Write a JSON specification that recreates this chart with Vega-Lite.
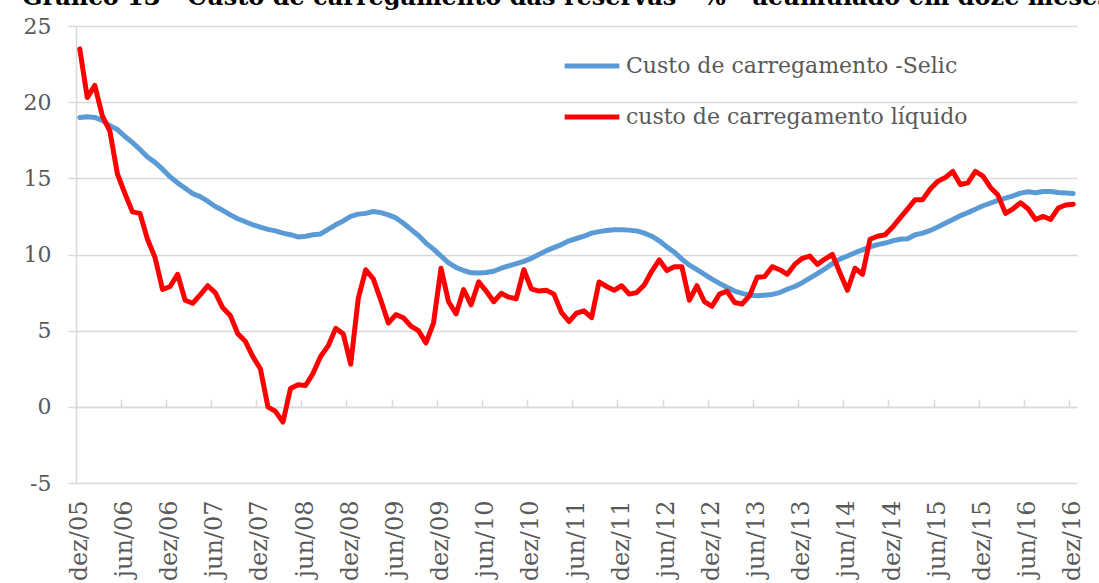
{
  "$schema": "https://vega.github.io/schema/vega-lite/v6.json",
  "width": 1001,
  "height": 457,
  "autosize": {"type": "none"},
  "padding": {"left": 76, "top": 26, "right": 22, "bottom": 100},
  "background": "white",
  "config": {"view": {"stroke": null}},
  "title": {
    "text": "Gráfico 13 - Custo de carregamento das reservas - % - acumulado em doze meses",
    "anchor": "start", "frame": "group", "dx": -54, "dy": 22, "baseline": "alphabetic", "offset": 8,
    "font": "DejaVu Serif", "fontSize": 24, "fontWeight": "bold", "color": "#000000"
  },
  "data": {"values": [
    {"m":"2005-12","Custo de carregamento -Selic":19.0,"custo de carregamento líquido":23.5},
    {"m":"2006-01","Custo de carregamento -Selic":19.05,"custo de carregamento líquido":20.3},
    {"m":"2006-02","Custo de carregamento -Selic":19.0,"custo de carregamento líquido":21.1},
    {"m":"2006-03","Custo de carregamento -Selic":18.8,"custo de carregamento líquido":19.1},
    {"m":"2006-04","Custo de carregamento -Selic":18.45,"custo de carregamento líquido":18.1},
    {"m":"2006-05","Custo de carregamento -Selic":18.2,"custo de carregamento líquido":15.3},
    {"m":"2006-06","Custo de carregamento -Selic":17.75,"custo de carregamento líquido":14.0},
    {"m":"2006-07","Custo de carregamento -Selic":17.35,"custo de carregamento líquido":12.8},
    {"m":"2006-08","Custo de carregamento -Selic":16.9,"custo de carregamento líquido":12.7},
    {"m":"2006-09","Custo de carregamento -Selic":16.4,"custo de carregamento líquido":11.0},
    {"m":"2006-10","Custo de carregamento -Selic":16.05,"custo de carregamento líquido":9.8},
    {"m":"2006-11","Custo de carregamento -Selic":15.6,"custo de carregamento líquido":7.7},
    {"m":"2006-12","Custo de carregamento -Selic":15.1,"custo de carregamento líquido":7.9},
    {"m":"2007-01","Custo de carregamento -Selic":14.7,"custo de carregamento líquido":8.7},
    {"m":"2007-02","Custo de carregamento -Selic":14.35,"custo de carregamento líquido":7.0},
    {"m":"2007-03","Custo de carregamento -Selic":14.0,"custo de carregamento líquido":6.8},
    {"m":"2007-04","Custo de carregamento -Selic":13.8,"custo de carregamento líquido":7.35},
    {"m":"2007-05","Custo de carregamento -Selic":13.5,"custo de carregamento líquido":7.95},
    {"m":"2007-06","Custo de carregamento -Selic":13.15,"custo de carregamento líquido":7.5},
    {"m":"2007-07","Custo de carregamento -Selic":12.9,"custo de carregamento líquido":6.5},
    {"m":"2007-08","Custo de carregamento -Selic":12.6,"custo de carregamento líquido":6.0},
    {"m":"2007-09","Custo de carregamento -Selic":12.35,"custo de carregamento líquido":4.8},
    {"m":"2007-10","Custo de carregamento -Selic":12.15,"custo de carregamento líquido":4.3},
    {"m":"2007-11","Custo de carregamento -Selic":11.95,"custo de carregamento líquido":3.3},
    {"m":"2007-12","Custo de carregamento -Selic":11.8,"custo de carregamento líquido":2.5},
    {"m":"2008-01","Custo de carregamento -Selic":11.65,"custo de carregamento líquido":0.0},
    {"m":"2008-02","Custo de carregamento -Selic":11.55,"custo de carregamento líquido":-0.3},
    {"m":"2008-03","Custo de carregamento -Selic":11.4,"custo de carregamento líquido":-1.0},
    {"m":"2008-04","Custo de carregamento -Selic":11.3,"custo de carregamento líquido":1.2},
    {"m":"2008-05","Custo de carregamento -Selic":11.15,"custo de carregamento líquido":1.45},
    {"m":"2008-06","Custo de carregamento -Selic":11.2,"custo de carregamento líquido":1.4},
    {"m":"2008-07","Custo de carregamento -Selic":11.3,"custo de carregamento líquido":2.2},
    {"m":"2008-08","Custo de carregamento -Selic":11.35,"custo de carregamento líquido":3.3},
    {"m":"2008-09","Custo de carregamento -Selic":11.65,"custo de carregamento líquido":4.0},
    {"m":"2008-10","Custo de carregamento -Selic":11.95,"custo de carregamento líquido":5.15},
    {"m":"2008-11","Custo de carregamento -Selic":12.2,"custo de carregamento líquido":4.8},
    {"m":"2008-12","Custo de carregamento -Selic":12.5,"custo de carregamento líquido":2.8},
    {"m":"2009-01","Custo de carregamento -Selic":12.65,"custo de carregamento líquido":7.1},
    {"m":"2009-02","Custo de carregamento -Selic":12.7,"custo de carregamento líquido":9.0},
    {"m":"2009-03","Custo de carregamento -Selic":12.82,"custo de carregamento líquido":8.4},
    {"m":"2009-04","Custo de carregamento -Selic":12.75,"custo de carregamento líquido":7.0},
    {"m":"2009-05","Custo de carregamento -Selic":12.6,"custo de carregamento líquido":5.5},
    {"m":"2009-06","Custo de carregamento -Selic":12.4,"custo de carregamento líquido":6.05},
    {"m":"2009-07","Custo de carregamento -Selic":12.05,"custo de carregamento líquido":5.85},
    {"m":"2009-08","Custo de carregamento -Selic":11.65,"custo de carregamento líquido":5.3},
    {"m":"2009-09","Custo de carregamento -Selic":11.25,"custo de carregamento líquido":5.0},
    {"m":"2009-10","Custo de carregamento -Selic":10.75,"custo de carregamento líquido":4.2},
    {"m":"2009-11","Custo de carregamento -Selic":10.35,"custo de carregamento líquido":5.5},
    {"m":"2009-12","Custo de carregamento -Selic":9.9,"custo de carregamento líquido":9.1},
    {"m":"2010-01","Custo de carregamento -Selic":9.45,"custo de carregamento líquido":6.9},
    {"m":"2010-02","Custo de carregamento -Selic":9.15,"custo de carregamento líquido":6.1},
    {"m":"2010-03","Custo de carregamento -Selic":8.95,"custo de carregamento líquido":7.7},
    {"m":"2010-04","Custo de carregamento -Selic":8.8,"custo de carregamento líquido":6.7},
    {"m":"2010-05","Custo de carregamento -Selic":8.78,"custo de carregamento líquido":8.2},
    {"m":"2010-06","Custo de carregamento -Selic":8.82,"custo de carregamento líquido":7.6},
    {"m":"2010-07","Custo de carregamento -Selic":8.9,"custo de carregamento líquido":6.9},
    {"m":"2010-08","Custo de carregamento -Selic":9.1,"custo de carregamento líquido":7.45},
    {"m":"2010-09","Custo de carregamento -Selic":9.25,"custo de carregamento líquido":7.2},
    {"m":"2010-10","Custo de carregamento -Selic":9.4,"custo de carregamento líquido":7.1},
    {"m":"2010-11","Custo de carregamento -Selic":9.55,"custo de carregamento líquido":9.0},
    {"m":"2010-12","Custo de carregamento -Selic":9.75,"custo de carregamento líquido":7.75},
    {"m":"2011-01","Custo de carregamento -Selic":10.0,"custo de carregamento líquido":7.6},
    {"m":"2011-02","Custo de carregamento -Selic":10.25,"custo de carregamento líquido":7.65},
    {"m":"2011-03","Custo de carregamento -Selic":10.45,"custo de carregamento líquido":7.4},
    {"m":"2011-04","Custo de carregamento -Selic":10.65,"custo de carregamento líquido":6.2},
    {"m":"2011-05","Custo de carregamento -Selic":10.9,"custo de carregamento líquido":5.6},
    {"m":"2011-06","Custo de carregamento -Selic":11.05,"custo de carregamento líquido":6.15},
    {"m":"2011-07","Custo de carregamento -Selic":11.2,"custo de carregamento líquido":6.3},
    {"m":"2011-08","Custo de carregamento -Selic":11.4,"custo de carregamento líquido":5.85},
    {"m":"2011-09","Custo de carregamento -Selic":11.5,"custo de carregamento líquido":8.2},
    {"m":"2011-10","Custo de carregamento -Selic":11.58,"custo de carregamento líquido":7.9},
    {"m":"2011-11","Custo de carregamento -Selic":11.62,"custo de carregamento líquido":7.65},
    {"m":"2011-12","Custo de carregamento -Selic":11.62,"custo de carregamento líquido":7.95},
    {"m":"2012-01","Custo de carregamento -Selic":11.6,"custo de carregamento líquido":7.4},
    {"m":"2012-02","Custo de carregamento -Selic":11.55,"custo de carregamento líquido":7.5},
    {"m":"2012-03","Custo de carregamento -Selic":11.4,"custo de carregamento líquido":8.0},
    {"m":"2012-04","Custo de carregamento -Selic":11.2,"custo de carregamento líquido":8.9},
    {"m":"2012-05","Custo de carregamento -Selic":10.9,"custo de carregamento líquido":9.65},
    {"m":"2012-06","Custo de carregamento -Selic":10.5,"custo de carregamento líquido":8.95},
    {"m":"2012-07","Custo de carregamento -Selic":10.15,"custo de carregamento líquido":9.2},
    {"m":"2012-08","Custo de carregamento -Selic":9.7,"custo de carregamento líquido":9.2},
    {"m":"2012-09","Custo de carregamento -Selic":9.3,"custo de carregamento líquido":7.0},
    {"m":"2012-10","Custo de carregamento -Selic":9.0,"custo de carregamento líquido":7.95},
    {"m":"2012-11","Custo de carregamento -Selic":8.7,"custo de carregamento líquido":6.9},
    {"m":"2012-12","Custo de carregamento -Selic":8.38,"custo de carregamento líquido":6.6},
    {"m":"2013-01","Custo de carregamento -Selic":8.1,"custo de carregamento líquido":7.4},
    {"m":"2013-02","Custo de carregamento -Selic":7.85,"custo de carregamento líquido":7.6},
    {"m":"2013-03","Custo de carregamento -Selic":7.6,"custo de carregamento líquido":6.85},
    {"m":"2013-04","Custo de carregamento -Selic":7.45,"custo de carregamento líquido":6.75},
    {"m":"2013-05","Custo de carregamento -Selic":7.33,"custo de carregamento líquido":7.3},
    {"m":"2013-06","Custo de carregamento -Selic":7.3,"custo de carregamento líquido":8.5},
    {"m":"2013-07","Custo de carregamento -Selic":7.33,"custo de carregamento líquido":8.55},
    {"m":"2013-08","Custo de carregamento -Selic":7.38,"custo de carregamento líquido":9.2},
    {"m":"2013-09","Custo de carregamento -Selic":7.5,"custo de carregamento líquido":9.0},
    {"m":"2013-10","Custo de carregamento -Selic":7.72,"custo de carregamento líquido":8.7},
    {"m":"2013-11","Custo de carregamento -Selic":7.9,"custo de carregamento líquido":9.35},
    {"m":"2013-12","Custo de carregamento -Selic":8.15,"custo de carregamento líquido":9.75},
    {"m":"2014-01","Custo de carregamento -Selic":8.45,"custo de carregamento líquido":9.9},
    {"m":"2014-02","Custo de carregamento -Selic":8.75,"custo de carregamento líquido":9.35},
    {"m":"2014-03","Custo de carregamento -Selic":9.05,"custo de carregamento líquido":9.7},
    {"m":"2014-04","Custo de carregamento -Selic":9.4,"custo de carregamento líquido":10.0},
    {"m":"2014-05","Custo de carregamento -Selic":9.7,"custo de carregamento líquido":8.8},
    {"m":"2014-06","Custo de carregamento -Selic":9.9,"custo de carregamento líquido":7.65},
    {"m":"2014-07","Custo de carregamento -Selic":10.12,"custo de carregamento líquido":9.1},
    {"m":"2014-08","Custo de carregamento -Selic":10.3,"custo de carregamento líquido":8.7},
    {"m":"2014-09","Custo de carregamento -Selic":10.5,"custo de carregamento líquido":11.0},
    {"m":"2014-10","Custo de carregamento -Selic":10.65,"custo de carregamento líquido":11.2},
    {"m":"2014-11","Custo de carregamento -Selic":10.75,"custo de carregamento líquido":11.3},
    {"m":"2014-12","Custo de carregamento -Selic":10.9,"custo de carregamento líquido":11.8},
    {"m":"2015-01","Custo de carregamento -Selic":11.0,"custo de carregamento líquido":12.4},
    {"m":"2015-02","Custo de carregamento -Selic":11.03,"custo de carregamento líquido":13.0},
    {"m":"2015-03","Custo de carregamento -Selic":11.3,"custo de carregamento líquido":13.6},
    {"m":"2015-04","Custo de carregamento -Selic":11.4,"custo de carregamento líquido":13.6},
    {"m":"2015-05","Custo de carregamento -Selic":11.58,"custo de carregamento líquido":14.3},
    {"m":"2015-06","Custo de carregamento -Selic":11.8,"custo de carregamento líquido":14.8},
    {"m":"2015-07","Custo de carregamento -Selic":12.05,"custo de carregamento líquido":15.05},
    {"m":"2015-08","Custo de carregamento -Selic":12.3,"custo de carregamento líquido":15.45},
    {"m":"2015-09","Custo de carregamento -Selic":12.55,"custo de carregamento líquido":14.6},
    {"m":"2015-10","Custo de carregamento -Selic":12.75,"custo de carregamento líquido":14.7},
    {"m":"2015-11","Custo de carregamento -Selic":12.97,"custo de carregamento líquido":15.45},
    {"m":"2015-12","Custo de carregamento -Selic":13.2,"custo de carregamento líquido":15.15},
    {"m":"2016-01","Custo de carregamento -Selic":13.37,"custo de carregamento líquido":14.4},
    {"m":"2016-02","Custo de carregamento -Selic":13.55,"custo de carregamento líquido":13.9},
    {"m":"2016-03","Custo de carregamento -Selic":13.7,"custo de carregamento líquido":12.7},
    {"m":"2016-04","Custo de carregamento -Selic":13.85,"custo de carregamento líquido":13.0},
    {"m":"2016-05","Custo de carregamento -Selic":14.03,"custo de carregamento líquido":13.4},
    {"m":"2016-06","Custo de carregamento -Selic":14.12,"custo de carregamento líquido":13.0},
    {"m":"2016-07","Custo de carregamento -Selic":14.05,"custo de carregamento líquido":12.3},
    {"m":"2016-08","Custo de carregamento -Selic":14.14,"custo de carregamento líquido":12.5},
    {"m":"2016-09","Custo de carregamento -Selic":14.14,"custo de carregamento líquido":12.3},
    {"m":"2016-10","Custo de carregamento -Selic":14.07,"custo de carregamento líquido":13.05},
    {"m":"2016-11","Custo de carregamento -Selic":14.03,"custo de carregamento líquido":13.25},
    {"m":"2016-12","Custo de carregamento -Selic":14.0,"custo de carregamento líquido":13.3}
  ]},
  "transform": [
    {"fold": ["Custo de carregamento -Selic", "custo de carregamento líquido"], "as": ["serie", "valor"]}
  ],
  "layer": [
    {
      "mark": {"type": "line", "strokeWidth": 5, "strokeCap": "round", "strokeJoin": "round"},
      "encoding": {
        "x": {
          "field": "m", "type": "ordinal", "sort": "ascending", "bandPosition": 0.5,
          "scale": {"type": "band", "paddingInner": 0, "paddingOuter": 0},
          "axis": {
            "orient": "bottom",
            "values": ["2005-12","2006-06","2006-12","2007-06","2007-12","2008-06","2008-12","2009-06","2009-12","2010-06","2010-12","2011-06","2011-12","2012-06","2012-12","2013-06","2013-12","2014-06","2014-12","2015-06","2015-12","2016-06","2016-12"],
            "labelExpr": "(substring(datum.value, 5, 7) == '12' ? 'dez' : 'jun') + '/' + substring(datum.value, 2, 4)",
            "labelAngle": -90, "labelAlign": "right", "labelBaseline": "middle",
            "labelFont": "DejaVu Serif", "labelFontSize": 24, "labelColor": "#595959",
            "labelPadding": 17, "labelOverlap": false,
            "ticks": false, "domain": false, "grid": false, "title": null
          }
        },
        "y": {
          "field": "valor", "type": "quantitative",
          "scale": {"domain": [-5, 25], "nice": false, "zero": false},
          "axis": {
            "orient": "left",
            "values": [-5, 0, 5, 10, 15, 20, 25], "title": null,
            "labelExpr": "'' + datum.value",
            "grid": true, "gridColor": "#d9d9d9", "gridWidth": 1.5,
            "domain": true, "domainColor": "#d9d9d9", "domainWidth": 1.5,
            "ticks": true, "tickSize": 8, "tickColor": "#d9d9d9", "tickWidth": 1.5,
            "labelFont": "DejaVu Serif", "labelFontSize": 22, "labelColor": "#595959", "labelPadding": 17
          }
        },
        "color": {
          "field": "serie", "type": "nominal",
          "scale": {"domain": ["Custo de carregamento -Selic", "custo de carregamento líquido"], "range": ["#5b9bd5", "#ff0000"]},
          "legend": {
            "title": null, "orient": "none", "legendX": 486, "legendY": 10,
            "padding": 0, "symbolType": "stroke", "symbolSize": 3000, "symbolStrokeWidth": 5,
            "labelFont": "DejaVu Serif", "labelFontSize": 22, "labelColor": "#595959",
            "labelOffset": 4, "labelLimit": 600, "rowPadding": 10
          }
        }
      }
    },
    {
      "mark": {"type": "point", "opacity": 0},
      "encoding": {
        "x": {
          "field": "m", "type": "ordinal", "sort": "ascending",
          "scale": {"type": "band", "paddingInner": 0, "paddingOuter": 0},
          "axis": {
            "orient": "bottom",
            "values": ["2005-12","2006-06","2006-12","2007-06","2007-12","2008-06","2008-12","2009-06","2009-12","2010-06","2010-12","2011-06","2011-12","2012-06","2012-12","2013-06","2013-12","2014-06","2014-12","2015-06","2015-12","2016-06","2016-12"],
            "bandPosition": 0, "labels": false, "grid": false, "title": null,
            "domain": true, "domainColor": "#d9d9d9", "domainWidth": 1.5,
            "ticks": true, "tickColor": "#d9d9d9", "tickWidth": 1.5, "tickSize": -8,
            "offset": -76
          }
        },
        "y": {"field": "valor", "type": "quantitative", "scale": {"domain": [-5, 25], "nice": false, "zero": false}}
      }
    }
  ],
  "resolve": {"axis": {"x": "independent"}}
}
